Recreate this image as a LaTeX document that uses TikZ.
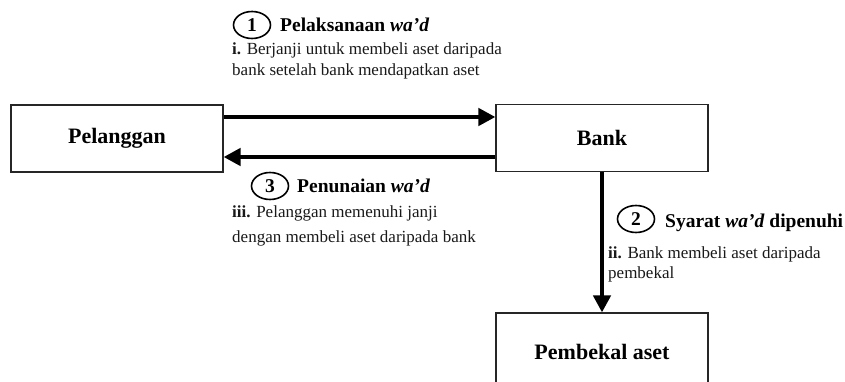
\documentclass[tikz,border=0pt]{standalone}
\usepackage{fontspec}
\setmainfont{Liberation Serif}
\usetikzlibrary{arrows.meta,calc,shapes.geometric}
\begin{document}
\begin{tikzpicture}[x=1pt,y=-1pt,
  boxnode/.style={draw=black!85,line width=1.1pt,minimum width=212pt,minimum height=67pt,inner sep=0pt,font=\fontsize{22}{26}\selectfont\bfseries},
  flow/.style={line width=4.3pt,-{Triangle[length=17pt,width=17pt]}},
  numring/.style={ellipse,draw,line width=1.6pt,minimum width=37pt,minimum height=27pt,inner sep=0pt,font=\fontsize{19.5}{22}\selectfont\bfseries},
  headtxt/.style={anchor=base west,inner sep=0pt,font=\fontsize{19.5}{22}\selectfont\bfseries},
  bodytxt/.style={anchor=base west,inner sep=0pt,font=\fontsize{17}{21}\selectfont,text=black!90}
]
\useasboundingbox (0,0) rectangle (845,382);
\node[boxnode] (pel) at (117,138.5) {Pelanggan};
\node[boxnode] (bank) at (602,138) {Bank};
\node[boxnode,minimum height=78pt] (sup) at (602,352) {Pembekal aset};
\draw[flow] (pel.east |- 0,117) -- (bank.west |- 0,117);
\draw[flow] (bank.west |- 0,157) -- (pel.east |- 0,157);
\draw[flow] (bank.south) -- (sup.north);
% step 1
\node[numring] (c1) at (252,25) {1};
\node[headtxt] (h1) at (280,32) {Pelaksanaan \textit{wa’d}};
\node[bodytxt] (b1a) at (232,55) {\textbf{i.} Berjanji untuk membeli aset daripada};
\node[bodytxt] (b1b) at (232,76) {bank setelah bank mendapatkan aset};
% step 3
\node[numring] (c3) at (270,186) {3};
\node[headtxt] (h3) at (297,193) {Penunaian \textit{wa’d}};
\node[bodytxt] (b3a) at (232,217) {\textbf{iii.} Pelanggan memenuhi janji};
\node[bodytxt] (b3b) at (232,242) {dengan membeli aset daripada bank};
% step 2
\node[numring] (c2) at (636,219) {2};
\node[headtxt] (h2) at (665,227) {Syarat \textit{wa’d} dipenuhi};
\node[bodytxt] (b2a) at (608,258) {\textbf{ii.} Bank membeli aset daripada};
\node[bodytxt] (b2b) at (608,278) {pembekal};
\end{tikzpicture}
\end{document}
